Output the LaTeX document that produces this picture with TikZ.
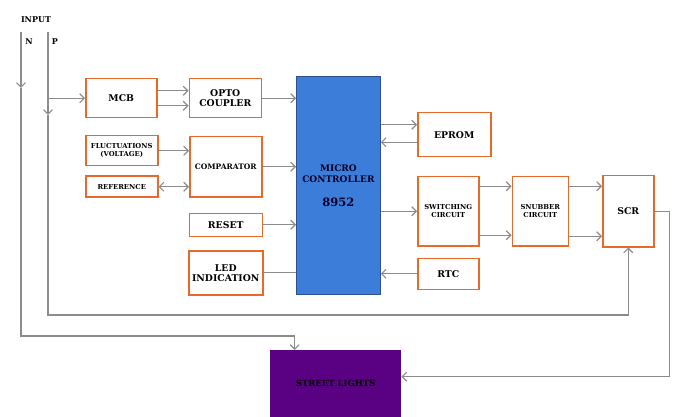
\documentclass[tikz,border=0pt]{standalone}
\usepackage{fontspec}
\setmainfont{DejaVu Serif}
\usetikzlibrary{arrows.meta, positioning}

\definecolor{boxorange}{HTML}{E8692A}
\definecolor{wiregray}{HTML}{8C8C8C}
\definecolor{mcblue}{HTML}{3C7DD9}
\definecolor{mcedge}{HTML}{2F4F8F}
\definecolor{lightpurple}{HTML}{5A0082}

\begin{document}
\begin{tikzpicture}[
    x=1pt, y=1pt,
    box/.style={rectangle, draw=boxorange, line width=1.5pt, fill=white,
                inner sep=1pt, align=center, font=\bfseries\fontsize{9.3}{10}\selectfont},
    small/.style={font=\bfseries\fontsize{6.8}{8}\selectfont},
    arrow/.style={-{Straight Barb[length=4.5pt, width=9pt]}, wiregray, line width=1.1pt},
    dblarrow/.style={{Straight Barb[length=4.5pt, width=9pt]}-{Straight Barb[length=4.5pt, width=9pt]}, wiregray, line width=1.1pt},
    wire/.style={wiregray, line width=1.1pt},
    lbl/.style={font=\bfseries\fontsize{8}{9}\selectfont}
  ]
    \useasboundingbox (0,0) rectangle (675,-417);

    % input lines
    \node[lbl] (input) at (36,-20) {INPUT};
    \node[lbl] (nlbl) at (29,-42) {N};
    \node[lbl] (plbl) at (55,-42) {P};
    \coordinate (nin) at (21,-32);
    \coordinate (pin) at (48,-32);

    % left column
    \node[box, minimum width=71pt, minimum height=39pt, anchor=north west] (mcb) at (85,-78) {MCB};
    \node[box, minimum width=72pt, minimum height=39pt, right=31pt of mcb] (opto) {OPTO\\COUPLER};
    \node[box, small, minimum width=72pt, minimum height=30pt, anchor=north west] (fluct) at (85,-135) {FLUCTUATIONS\\(VOLTAGE)};
    \node[box, small, minimum width=72pt, minimum height=21pt, below=9pt of fluct] (ref) {REFERENCE};
    \node[box, font=\bfseries\fontsize{7.5}{8.5}\selectfont, minimum width=72pt, minimum height=60pt, anchor=north west] (comp) at (189,-136) {COMPARATOR};
    \node[box, minimum width=73pt, minimum height=23pt, below=15pt of comp] (reset) {RESET};
    \node[box, minimum width=74pt, minimum height=44pt, below=13pt of reset] (led) {LED\\INDICATION};

    % controller
    \node[rectangle, draw=mcedge, line width=0.8pt, fill=mcblue, minimum width=84pt, minimum height=218pt,
          anchor=north west, align=center, text=black!85!blue, font=\bfseries\fontsize{9}{11}\selectfont] (mc) at (296,-76)
          {MICRO\\CONTROLLER\\[13pt]{\fontsize{11.5}{12}\selectfont 8952}};

    % right side
    \node[box, minimum width=73pt, minimum height=44pt, anchor=north west] (eprom) at (417,-112) {EPROM};
    \node[box, small, minimum width=61pt, minimum height=69pt, anchor=north west] (sw) at (417,-176) {SWITCHING\\CIRCUIT};
    \node[box, small, minimum width=56pt, minimum height=69pt, right=32pt of sw] (snub) {SNUBBER\\CIRCUIT};
    \node[box, minimum width=51pt, minimum height=71pt, right=33pt of snub] (scr) {SCR};
    \node[box, minimum width=61pt, minimum height=31pt, below=11pt of sw] (rtc) {RTC};

    \node[rectangle, fill=lightpurple, minimum width=131pt, minimum height=67pt, anchor=north west,
          font=\bfseries\fontsize{8.5}{9}\selectfont] (lights) at (270,-350) {STREET LIGHTS};

    % mains wiring
    \draw[arrow] (nin) -- (21,-88);
    \draw[arrow] (21,-88) -- (21,-336) -| ([xshift=-41pt]lights.north);
    \draw[arrow] (pin) -- (48,-115);
    \draw[arrow] (48,-115) -- (48,-315) -| (scr.south);
    \draw[arrow] (pin |- mcb.west) -- (mcb.west);
    \draw[arrow] (scr.east) -- ++(15pt,0) |- ([yshift=7pt]lights.east);

    % left blocks to controller
    \draw[arrow] ([yshift=7.5pt]mcb.east) -- ([yshift=7.5pt]opto.west);
    \draw[arrow] ([yshift=-7.5pt]mcb.east) -- ([yshift=-7.5pt]opto.west);
    \draw[arrow] (opto.east) -- (opto.east -| mc.west);
    \draw[arrow] (fluct.east) -- (fluct.east -| comp.west);
    \draw[dblarrow] (ref.east) -- (ref.east -| comp.west);
    \draw[arrow] (comp.east) -- (comp.east -| mc.west);
    \draw[arrow] (reset.east) -- (reset.east -| mc.west);
    \draw[wire] (led.east) -- (led.east -| mc.west);

    % controller to right blocks
    \draw[arrow] ([yshift=10pt]eprom.west -| mc.east) -- ([yshift=10pt]eprom.west);
    \draw[arrow] ([yshift=-7.5pt]eprom.west) -- ([yshift=-7.5pt]eprom.west -| mc.east);
    \draw[arrow] (sw.west -| mc.east) -- (sw.west);
    \draw[arrow] ([yshift=25pt]sw.east) -- ([yshift=25pt]sw.east -| snub.west);
    \draw[arrow] ([yshift=-24pt]sw.east) -- ([yshift=-24pt]sw.east -| snub.west);
    \draw[arrow] ([yshift=25pt]snub.east) -- ([yshift=25pt]snub.east -| scr.west);
    \draw[arrow] ([yshift=-25pt]snub.east) -- ([yshift=-25pt]snub.east -| scr.west);
    \draw[arrow] (rtc.west) -- (rtc.west -| mc.east);
  \end{tikzpicture}
\end{document}
